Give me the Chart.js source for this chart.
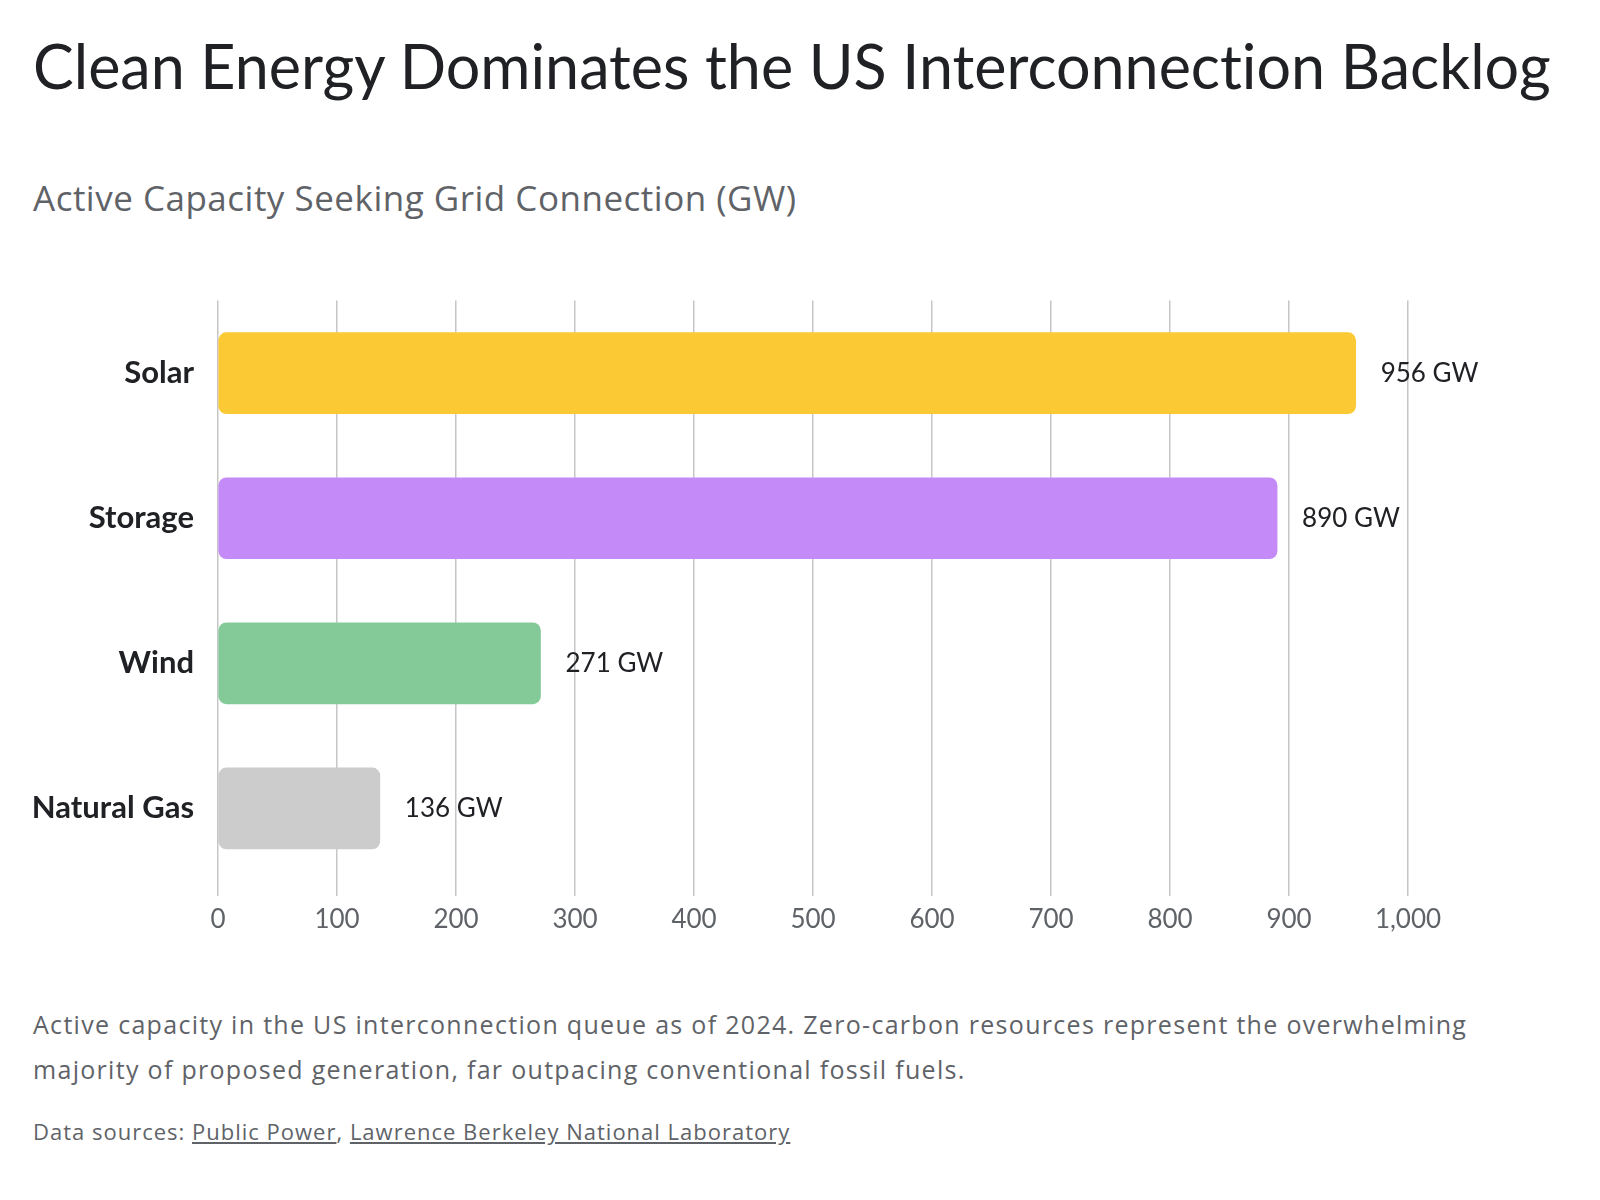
<!DOCTYPE html>
<html>
<head>
<meta charset="utf-8">
<title>Clean Energy Dominates the US Interconnection Backlog</title>
<script src="https://cdn.jsdelivr.net/npm/chart.js@4/dist/chart.umd.min.js"></script>
<style>
  html, body { margin: 0; padding: 0; background: #ffffff; }
  body { width: 1600px; height: 1200px; position: relative; font-family: 'Lato', 'Roboto', sans-serif; font-variant-ligatures: none; }
  #title { position: absolute; left: 33px; top: 35px; font-size: 61px; line-height: 61px; color: #202124; white-space: nowrap; }
  #subtitle { position: absolute; left: 33px; top: 180px; font-family: 'Open Sans', sans-serif; font-size: 35px; line-height: 36px; color: #5f6368; white-space: nowrap; letter-spacing: 0.5px; }
  #chart-box { position: absolute; left: 0; top: 258px; width: 1600px; height: 702px; }
  #caption { position: absolute; left: 33px; top: 1002px; font-family: 'Open Sans', sans-serif; font-size: 25px; line-height: 45px; color: #5f6368; white-space: nowrap; letter-spacing: 1.3px; }
  #sources { position: absolute; left: 33px; top: 1119px; font-family: 'Open Sans', sans-serif; font-size: 22px; line-height: 24px; color: #5f6368; white-space: nowrap; letter-spacing: 1px; }
  #sources a { color: #5f6368; }
</style>
</head>
<body>
<div id="title">Clean Energy Dominates the US Interconnection Backlog</div>
<div id="subtitle">Active Capacity Seeking Grid Connection (GW)</div>
<div id="chart-box"><canvas id="myChart"></canvas></div>
<div id="caption">Active capacity in the US interconnection queue as of 2024. Zero-carbon resources represent the overwhelming<br>majority of proposed generation, far outpacing conventional fossil fuels.</div>
<div id="sources">Data sources: <a href="#">Public Power</a>, <a href="#">Lawrence Berkeley National Laboratory</a></div>

<script>
'use strict';

const categories = ['Solar', 'Storage', 'Wind', 'Natural Gas'];
const capacityGW = [956, 890, 271, 136];
const barColors = ['#fbc934', '#c38af8', '#84ca98', '#cccccc'];
const valueUnit = ' GW';

const axisMin = 0;
const axisMax = 1000;
const axisStep = 100;


// writes "956 GW" etc. just past the end of each bar
const valueLabels = {
  id: 'valueLabels',
  afterDatasetsDraw(chart) {
    const ctx = chart.ctx;
    const meta = chart.getDatasetMeta(0);
    ctx.save();
    ctx.font = '26px Lato, Roboto, sans-serif';
    ctx.fillStyle = '#202124';
    ctx.textAlign = 'left';
    ctx.textBaseline = 'middle';
    for (let i = 0; i < meta.data.length; i++) {
      const bar = meta.data[i];
      ctx.fillText(capacityGW[i] + valueUnit, bar.x + 25, bar.y);
    }
    ctx.restore();
  }
};


function chartDraw() {
  let ctx = document.getElementById('myChart').getContext('2d');
  let chart = new Chart(ctx, {
    type: 'bar',
    data: {
      labels: categories,
      datasets: [{
        label: 'Active capacity (GW)',
        data: capacityGW,
        backgroundColor: barColors,
        borderRadius: 8,
        borderSkipped: false,
        barThickness: 81
      }]
    },
    options: {
      indexAxis: 'y',
      responsive: true,
      maintainAspectRatio: false,
      animation: false,
      layout: {
        padding: { top: 20, right: 192, left: 0, bottom: 0 }
      },
      plugins: {
        legend: { display: false },
        tooltip: { enabled: false }
      },
      scales: {
        x: {
          min: axisMin,
          max: axisMax,
          afterFit(scale) { scale.height = 79; },
          border: { display: false },
          grid: {
            color: '#c6c6c6',
            lineWidth: 1.5,
            tickLength: 15,
            tickColor: '#c6c6c6'
          },
          ticks: {
            stepSize: axisStep,
            padding: 8,
            color: '#5f6368',
            font: { family: 'Lato, Roboto, sans-serif', size: 26 },
            callback: (v) => Number(v).toLocaleString('en-US')
          }
        },
        y: {
          afterFit(scale) { scale.width = 218; },
          border: { display: false },
          grid: { display: false, drawTicks: false },
          ticks: {
            padding: 24,
            color: '#202124',
            font: { family: 'Lato, Roboto, sans-serif', size: 31, weight: 'bold' }
          }
        }
      }
    },
    plugins: [valueLabels]
  });
  return chart;
}

chartDraw();
</script>
</body>
</html>
